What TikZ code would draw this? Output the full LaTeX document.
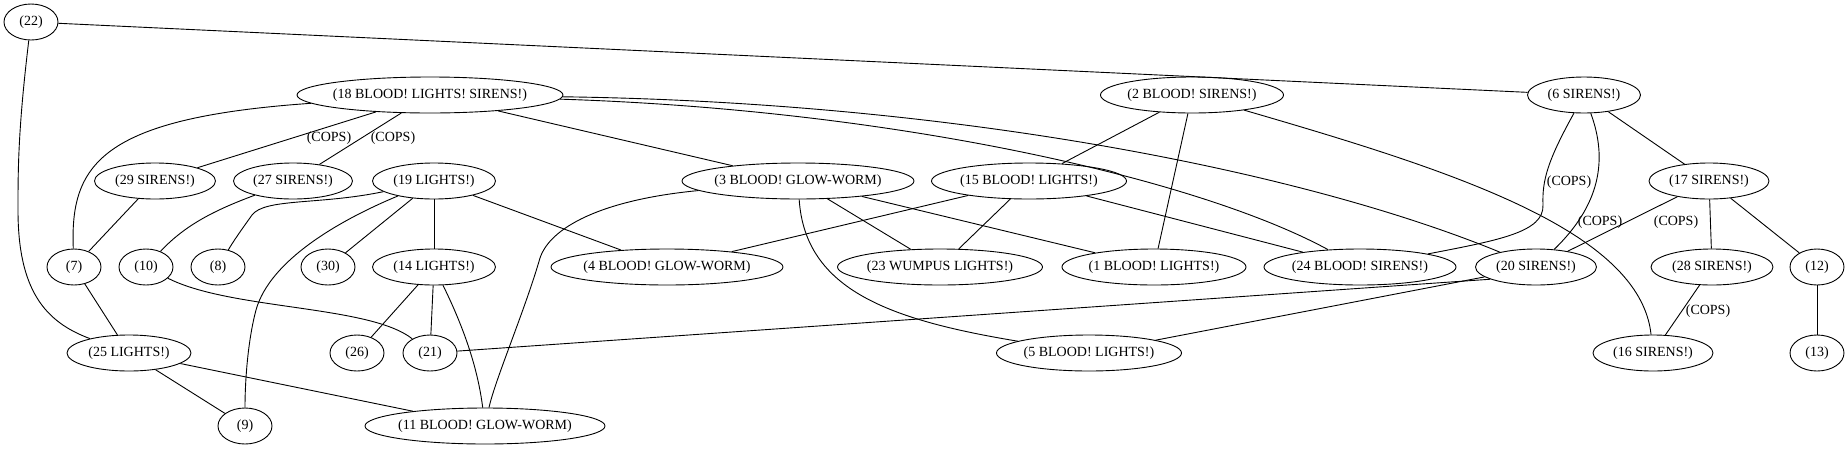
\documentclass[tikz,border=0pt]{standalone}
\usepackage{fontspec}
\setmainfont{Liberation Serif}
\usetikzlibrary{shapes.geometric}
\tikzset{
  gv/.style={ellipse, draw, line width=0.9pt, inner xsep=-10pt, inner ysep=0pt,
             minimum height=36pt, font=\fontsize{14}{16}\selectfont},
  lbl/.style={font=\fontsize{14}{16}\selectfont, inner sep=0pt},
  ln/.style={line width=0.9pt}
}
\begin{document}
\begin{tikzpicture}[x=1pt,y=-1pt]
\useasboundingbox (0,0) rectangle (1848,448);
% row 0-1
\node[gv, minimum width=54pt]  (n22) at (31,22)    {(22)};
\node[gv, minimum width=266pt] (n18) at (430,95)   {(18 BLOOD! LIGHTS! SIRENS!)};
\node[gv, minimum width=183pt] (n2)  at (1192,95)  {(2 BLOOD! SIRENS!)};
\node[gv, minimum width=113pt] (n6)  at (1584,95)  {(6 SIRENS!)};
% row 2
\node[gv, minimum width=121pt] (n29) at (155,181)  {(29 SIRENS!)};
\node[gv, minimum width=119pt] (n27) at (293,181)  {(27 SIRENS!)};
\node[gv, minimum width=123pt] (n19) at (434,181)  {(19 LIGHTS!)};
\node[gv, minimum width=232pt] (n3)  at (798,181)  {(3 BLOOD! GLOW-WORM)};
\node[gv, minimum width=195pt] (n15) at (1029,181) {(15 BLOOD! LIGHTS!)};
\node[gv, minimum width=120pt] (n17) at (1709,181) {(17 SIRENS!)};
% row 3
\node[gv, minimum width=54pt]  (n7)  at (74,267)   {(7)};
\node[gv, minimum width=54pt]  (n10) at (146,267)  {(10)};
\node[gv, minimum width=54pt]  (n8)  at (218,267)  {(8)};
\node[gv, minimum width=54pt]  (n30) at (328,267)  {(30)};
\node[gv, minimum width=123pt] (n14) at (434,267)  {(14 LIGHTS!)};
\node[gv, minimum width=232pt] (n4)  at (667,267)  {(4 BLOOD! GLOW-WORM)};
\node[gv, minimum width=205pt] (n23) at (940,267)  {(23 WUMPUS LIGHTS!)};
\node[gv, minimum width=184pt] (n1)  at (1154,267) {(1 BLOOD! LIGHTS!)};
\node[gv, minimum width=192pt] (n24) at (1360,267) {(24 BLOOD! SIRENS!)};
\node[gv, minimum width=121pt] (n20) at (1536,267) {(20 SIRENS!)};
\node[gv, minimum width=122pt] (n28) at (1712,267) {(28 SIRENS!)};
\node[gv, minimum width=54pt]  (n12) at (1817,267) {(12)};
% row 4
\node[gv, minimum width=124pt] (n25) at (129,353)  {(25 LIGHTS!)};
\node[gv, minimum width=54pt]  (n26) at (357,353)  {(26)};
\node[gv, minimum width=54pt]  (n21) at (430,353)  {(21)};
\node[gv, minimum width=185pt] (n5)  at (1089,353) {(5 BLOOD! LIGHTS!)};
\node[gv, minimum width=120pt] (n16) at (1653,353) {(16 SIRENS!)};
\node[gv, minimum width=54pt]  (n13) at (1817,353) {(13)};
% row 5
\node[gv, minimum width=54pt]  (n9)  at (245,426)  {(9)};
\node[gv, minimum width=240pt] (n11) at (485,426)  {(11 BLOOD! GLOW-WORM)};

% edge labels
\node[lbl] (c1) at (329,138)  {(COPS)};
\node[lbl] (c2) at (393,138)  {(COPS)};
\node[lbl] (c3) at (1569,182) {(COPS)};
\node[lbl] (c4) at (1600,222) {(COPS)};
\node[lbl] (c5) at (1676,222) {(COPS)};
\node[lbl] (c6) at (1708,311) {(COPS)};

% straight edges
\draw[ln] (n22) -- (n6);
\draw[ln] (n18) -- (n29);
\draw[ln] (n18) -- (n27);
\draw[ln] (n18) -- (n3);
\draw[ln] (n2) -- (n15);
\draw[ln] (n2) -- (n1);
\draw[ln] (n6) -- (n17);
\draw[ln] (n17) -- (n20);
\draw[ln] (n17) -- (n28);
\draw[ln] (n17) -- (n12);
\draw[ln] (n28) -- (n16);
\draw[ln] (n12) -- (n13);
\draw[ln] (n29) -- (n7);
\draw[ln] (n19) -- (n30);
\draw[ln] (n19) -- (n14);
\draw[ln] (n19) -- (n4);
\draw[ln] (n3) -- (n23);
\draw[ln] (n3) -- (n1);
\draw[ln] (n15) -- (n4);
\draw[ln] (n15) -- (n23);
\draw[ln] (n15) -- (n24);
\draw[ln] (n7) -- (n25);
\draw[ln] (n14) -- (n26);
\draw[ln] (n14) -- (n21);
\draw[ln] (n20.195) -- (n21);
\draw[ln] (n20) -- (n5);
\draw[ln] (n25) -- (n9);
\draw[ln] (n25) -- (n11);

% curved edges
\draw[ln] (n22) .. controls (18,130) and (18,170) .. (18,210)
               .. controls (18,290) and (45,322) .. (n25);
\draw[ln] (n18) .. controls (100,118) and (70,165) .. (n7);
\draw[ln] (n18) .. controls (900,110) and (1200,180) .. (n24);
\draw[ln] (n18) .. controls (950,102) and (1300,170) .. (n20);
\draw[ln] (n2) .. controls (1450,170) and (1640,230) .. (n16);
\draw[ln] (n6) .. controls (1548,160) and (1542,180) .. (1543,205)
              .. controls (1544,232) and (1500,240) .. (n24);
\draw[ln] (n6) .. controls (1608,160) and (1600,205) .. (n20);
\draw[ln] (n27) .. controls (215,210) and (185,225) .. (n10);
\draw[ln] (n19) .. controls (320,205) and (265,198) .. (252,215)
               .. controls (245,225) and (236,237) .. (n8);
\draw[ln] (n19) .. controls (340,220) and (270,260) .. (256,310)
               .. controls (248,340) and (245,380) .. (n9);
\draw[ln] (n3) .. controls (600,200) and (550,228) .. (540,258)
              .. controls (525,310) and (495,380) .. (n11);
\draw[ln] (n3) .. controls (805,290) and (890,320) .. (n5);
\draw[ln] (n10) .. controls (230,310) and (370,305) .. (n21);
\draw[ln] (n14) .. controls (465,330) and (478,370) .. (n11);
\end{tikzpicture}
\end{document}
